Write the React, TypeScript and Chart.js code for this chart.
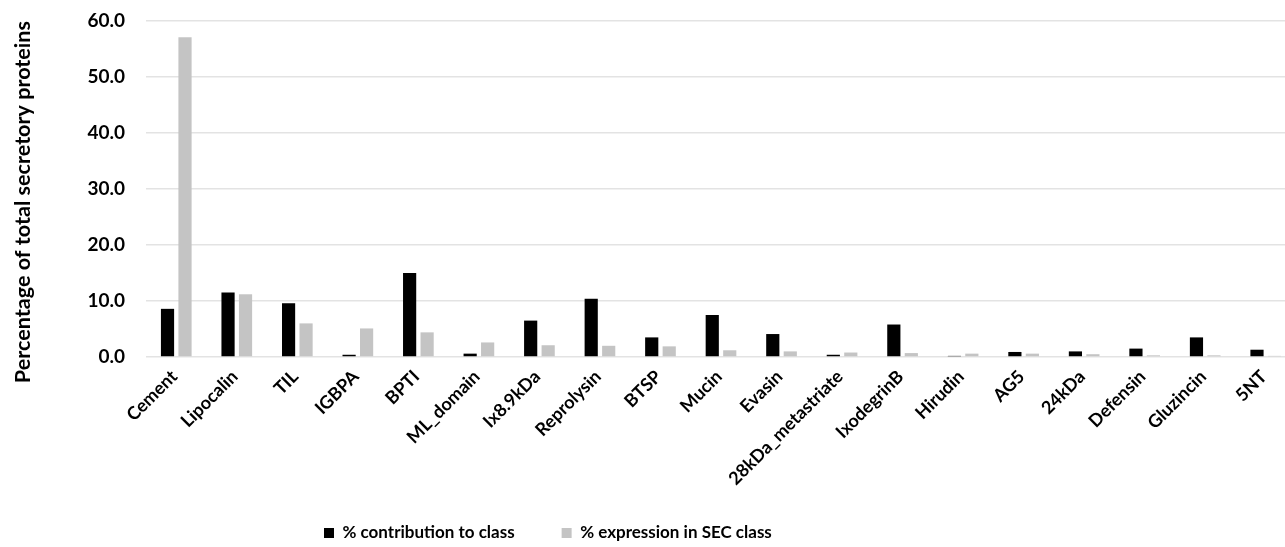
import React, { useEffect, useRef } from 'react';
import { Chart, registerables } from 'chart.js';

Chart.register(...registerables);

const categories = [
  'Cement', 'Lipocalin', 'TIL', 'IGBPA', 'BPTI', 'ML_domain', 'Ix8.9kDa', 'Reprolysin',
  'BTSP', 'Mucin', 'Evasin', '28kDa_metastriate', 'IxodegrinB', 'Hirudin', 'AG5',
  '24kDa', 'Defensin', 'Gluzincin', '5NT',
];
const contribution = [8.6, 11.5, 9.6, 0.4, 15.0, 0.6, 6.5, 10.4, 3.5, 7.5, 4.1, 0.4, 5.8, 0.2, 0.9, 1.0, 1.5, 3.5, 1.3];
const expression = [57.1, 11.2, 6.0, 5.1, 4.4, 2.6, 2.1, 2.0, 1.9, 1.2, 1.0, 0.8, 0.7, 0.6, 0.6, 0.5, 0.3, 0.3, 0.2];
const seriesNames = ['% contribution to class', '% expression in SEC class'];
const yTitle = 'Percentage of total secretory proteins';
const yMin = 0;
const yMax = 60;
const yStep = 10;

const FONT = 'Lato';
const LEGEND_PAD = 47;
const LEGEND_FONT = 17;

const legendPlacer = {
  id: 'legendPlacer',
  afterLayout(chart: any) {
    const lg = chart.legend;
    if (!lg) return;
    const left = 324 - LEGEND_PAD;
    const top = 533 - LEGEND_PAD - LEGEND_FONT / 2;
    lg.left = left;
    lg.right = 1290;
    lg.top = top;
    lg.bottom = 547;
  },
};

export default function App() {
  const ref = useRef<HTMLCanvasElement | null>(null);

  useEffect(() => {
    if (!ref.current) return;
    const chart = new Chart(ref.current, {
      type: 'bar',
      data: {
        labels: categories,
        datasets: [
          {
            label: seriesNames[0],
            data: contribution,
            backgroundColor: '#000000',
            borderWidth: 0,
            categoryPercentage: 0.578,
            barPercentage: 0.754,
          },
          {
            label: seriesNames[1],
            data: expression,
            backgroundColor: '#c4c4c4',
            borderWidth: 0,
            categoryPercentage: 0.578,
            barPercentage: 0.754,
          },
        ],
      },
      options: {
        responsive: false,
        animation: false,
        devicePixelRatio: 1,
        layout: { padding: { top: 21, right: 4, bottom: 0, left: 0 } },
        plugins: {
          tooltip: { enabled: false },
          legend: {
            position: 'bottom',
            align: 'start',
            maxHeight: 40,
            labels: {
              boxWidth: 10,
              boxHeight: 10,
              padding: LEGEND_PAD,
              color: '#000',
              font: { family: FONT, size: LEGEND_FONT, weight: 'bold' },
            },
          },
        },
        scales: {
          x: {
            grid: { display: false, drawTicks: false },
            border: { display: false },
            ticks: {
              autoSkip: false,
              minRotation: 45,
              maxRotation: 45,
              padding: 9,
              labelOffset: -2,
              color: '#000',
              font: { family: FONT, size: 18, weight: 'bold' },
            },
            afterFit: (s: any) => { s.height = 150; },
          },
          y: {
            min: yMin,
            max: yMax,
            grid: { color: '#e3e3e3', lineWidth: 1.5, drawTicks: false },
            border: { display: false },
            ticks: {
              stepSize: yStep,
              padding: 21,
              color: '#000',
              font: { family: FONT, size: 19, weight: 'bold' },
              callback: (v: any) => Number(v).toFixed(1),
            },
            title: {
              display: true,
              text: yTitle,
              align: 'end',
              color: '#000',
              padding: { top: 10, bottom: 0 },
              font: { family: FONT, size: 21.6, weight: 'bold' },
            },
            afterFit: (s: any) => {
              s.width = 146;
              s.paddingTop = 11;
              s.paddingBottom = 11;
            },
          },
        },
      },
      plugins: [legendPlacer],
    });
    return () => chart.destroy();
  }, []);

  return (
    <div style={{ position: 'fixed', left: 0, top: 0, width: 1285, height: 547, overflow: 'hidden', background: '#fff' }}>
      <canvas ref={ref} width={1300} height={547} style={{ display: 'block', width: 1300, height: 547 }} />
    </div>
  );
}
